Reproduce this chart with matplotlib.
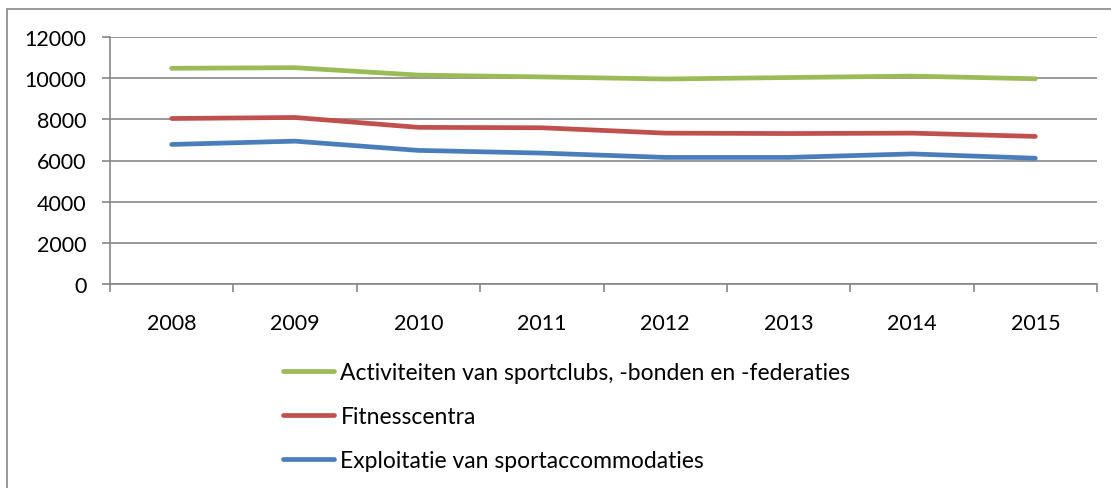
import numpy as np
import matplotlib.pyplot as plt
from matplotlib.patches import Rectangle

plt.rcParams['font.family'] = ['Lato', 'DejaVu Sans']

# Data
years = ['2008', '2009', '2010', '2011', '2012', '2013', '2014', '2015']
sportclubs = [10480, 10510, 10150, 10060, 9960, 10030, 10100, 9970]
fitness = [8040, 8090, 7610, 7590, 7330, 7310, 7330, 7170]
accommodaties = [6780, 6940, 6490, 6360, 6150, 6150, 6320, 6110]

names = ['Activiteiten van sportclubs, -bonden en -federaties',
         'Fitnesscentra',
         'Exploitatie van sportaccommodaties']
colors = ['#9BBB59', '#C0504D', '#4A7EBB']
grey = '#868686'

fig = plt.figure(figsize=(11.11, 4.89), dpi=100)
ax = fig.add_axes([110/1111, 1 - 285/489, (1097-110)/1111, (285-38)/489])

# chart border
fig.patches.append(Rectangle((7/1111, -0.1), 1.2, 1 - 10/489 + 0.1,
                             transform=fig.transFigure, fill=False,
                             edgecolor=grey, lw=1.2))

x = np.arange(len(years))
handles = []
for vals, name, c in zip([sportclubs, fitness, accommodaties], names, colors):
    h, = ax.plot(x, vals, color=c, lw=3.4, solid_capstyle='round',
                 solid_joinstyle='round', label=name, zorder=3)
    handles.append(h)

ax.set_xlim(-0.5, len(years) - 0.5)
ax.set_ylim(0, 12000)
ax.set_yticks(np.arange(0, 12001, 2000))
ax.set_xticks(x)
ax.set_xticklabels(years)
ax.set_xticks(np.arange(-0.5, len(years)), minor=True)

ax.grid(axis='y', color=grey, lw=1.2, zorder=1)
for s in ['top', 'right']:
    ax.spines[s].set_visible(False)
for s in ['left', 'bottom']:
    ax.spines[s].set_color(grey)
    ax.spines[s].set_linewidth(1.2)

ax.tick_params(axis='y', length=6, color=grey, width=1.2, labelsize=15.5, pad=11)
ax.tick_params(axis='x', which='major', length=0, labelsize=15.5, pad=21)
ax.tick_params(axis='x', which='minor', length=6, color=grey, width=1.2)

leg = fig.legend(handles=handles, loc='upper left',
                 bbox_to_anchor=(274/1111, 1 - 354/489),
                 frameon=False, fontsize=16.5, handlelength=2.2,
                 handletextpad=0.3, labelspacing=1.0, borderaxespad=0)

fig.savefig('out.png', dpi=100)
